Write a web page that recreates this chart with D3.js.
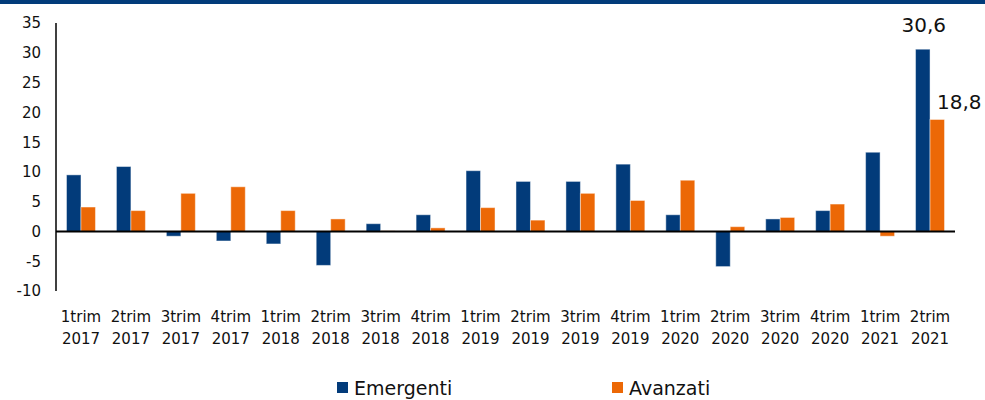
<!DOCTYPE html>
<html><head><meta charset="utf-8">
<script src="https://cdn.jsdelivr.net/npm/d3@7"></script>
<style>body{margin:0;background:#fff}svg{display:block}text{font-family:"DejaVu Sans",sans-serif;fill:#111}</style>
</head><body>
<svg id="c" width="985" height="400"></svg>
<script>
const categories = ["1trim 2017","2trim 2017","3trim 2017","4trim 2017","1trim 2018","2trim 2018","3trim 2018","4trim 2018","1trim 2019","2trim 2019","3trim 2019","4trim 2019","1trim 2020","2trim 2020","3trim 2020","4trim 2020","1trim 2021","2trim 2021"];
const emergenti = [9.5,10.9,-0.8,-1.6,-2.1,-5.7,1.3,2.8,10.2,8.4,8.4,11.3,2.8,-5.9,2.1,3.5,13.3,30.6];
const avanzati  = [4.1,3.5,6.4,7.5,3.5,2.1,0.1,0.6,4.0,1.9,6.4,5.2,8.6,0.8,2.35,4.6,-0.8,18.8];
const seriesNames = ["Emergenti","Avanzati"];
const colors = ["#023B7A","#EC6806"];
const yTicks = [-10,-5,0,5,10,15,20,25,30,35];

const svg = d3.select("#c");
svg.append("rect").attr("x",0).attr("y",0).attr("width",985).attr("height",4).attr("fill","#023B7A");

const x0 = d3.scaleBand().domain(categories).range([56,955]).paddingInner(0.42).paddingOuter(0.21);
const x1 = d3.scaleBand().domain(seriesNames).range([0,x0.bandwidth()]);
const y = d3.scaleLinear().domain([-10,35]).range([291,23]);

// y axis labels
svg.append("g").selectAll("text").data(yTicks).join("text")
  .attr("x",41).attr("y",d=>y(d)).attr("dy","0.36em").attr("text-anchor","end")
  .style("font-size","15px").text(d=>d);

const data = categories.map((c,i)=>({c, vals:[emergenti[i],avanzati[i]]}));
const g = svg.append("g");
data.forEach(d=>{
  d.vals.forEach((v,j)=>{
    g.append("rect")
      .attr("x",x0(d.c)+x1(seriesNames[j]))
      .attr("y",y(Math.max(0,v)))
      .attr("width",x1.bandwidth())
      .attr("height",Math.abs(y(v)-y(0)))
      .attr("fill",colors[j])
      .attr("stroke","rgba(255,255,255,0.45)").attr("stroke-width",1);
  });
});

// axes lines
svg.append("line").attr("x1",56).attr("x2",56).attr("y1",y(35)).attr("y2",y(-10)).attr("stroke","#000").attr("stroke-width",1.5);
svg.append("line").attr("x1",56).attr("x2",955).attr("y1",y(0)).attr("y2",y(0)).attr("stroke","#000").attr("stroke-width",2);

// category labels
const cl = svg.append("g").selectAll("text").data(categories).join("text")
  .attr("text-anchor","middle").style("font-size","15px")
  .attr("transform",d=>`translate(${x0(d)+x0.bandwidth()/2},0)`);
cl.append("tspan").attr("x",0).attr("y",322).text(d=>d.split(" ")[0]);
cl.append("tspan").attr("x",0).attr("y",344).text(d=>d.split(" ")[1]);

// data labels for last category
const last = categories[categories.length-1];
svg.append("text").attr("x",x0(last)+x1("Emergenti")+x1.bandwidth()/2+1).attr("y",y(emergenti[17])-17)
  .attr("text-anchor","middle").style("font-size","20px").text(String(emergenti[17]).replace(".",","));
svg.append("text").attr("x",x0(last)+x1("Avanzati")+7).attr("y",y(avanzati[17])-10)
  .attr("text-anchor","start").style("font-size","20px").text(String(avanzati[17]).replace(".",","));

// legend
const legX = [337,612];
seriesNames.forEach((s,i)=>{
  svg.append("rect").attr("x",legX[i]).attr("y",382).attr("width",11).attr("height",11).attr("fill",colors[i]);
  svg.append("text").attr("x",legX[i]+17).attr("y",395).style("font-size","19px").text(s);
});
</script>
</body></html>
